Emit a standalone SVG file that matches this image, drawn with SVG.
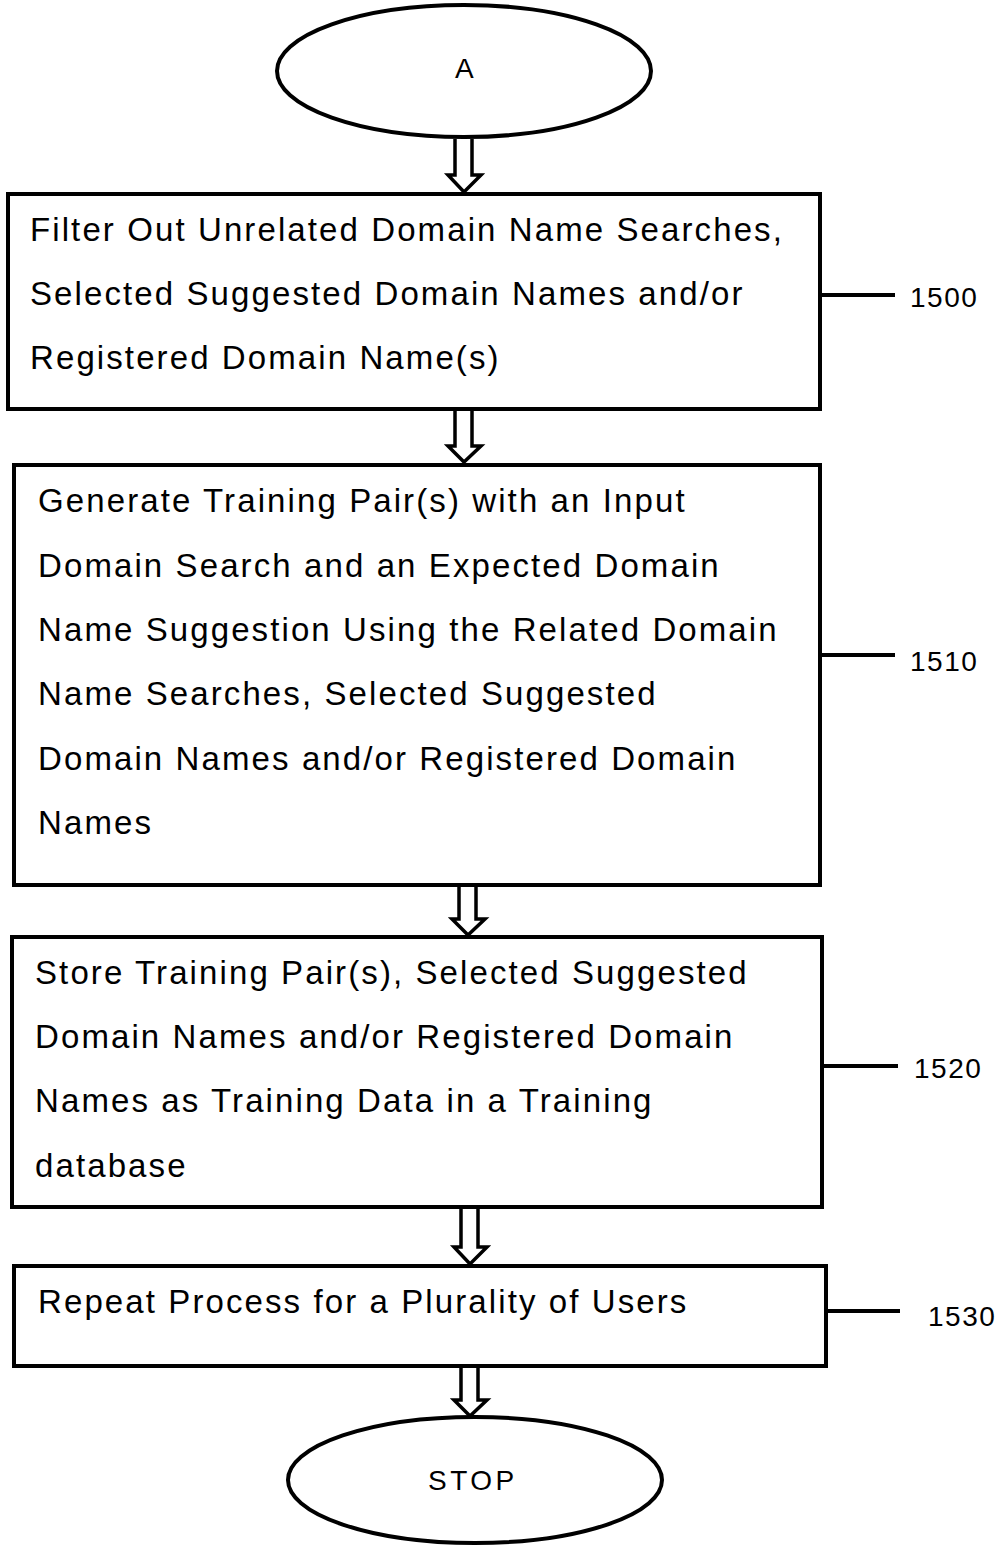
<svg xmlns="http://www.w3.org/2000/svg" width="1001" height="1547" viewBox="0 0 1001 1547">
<style>
.b{fill:#fff;stroke:#000;stroke-width:4}
.t{font-family:"Liberation Sans",Arial,sans-serif;font-size:33px;letter-spacing:2.1px;fill:#000}
.n{font-family:"Liberation Sans",Arial,sans-serif;font-size:28px;letter-spacing:1.5px;fill:#000}
.l{stroke:#000;stroke-width:4;fill:none}
.a{fill:#fff;stroke:#000;stroke-width:3.5;stroke-linejoin:miter}
</style>
<rect width="1001" height="1547" fill="#fff"/>
<g id="nodeA"><ellipse class="b" cx="464" cy="71" rx="187" ry="66"/><text class="n" x="455" y="78">A</text></g>
<g id="n1500"><rect class="b" x="8" y="194" width="812" height="215"/>
<text class="t" x="30" y="241">Filter Out Unrelated Domain Name Searches,</text>
<text class="t" x="30" y="305">Selected Suggested Domain Names and/or</text>
<text class="t" x="30" y="369">Registered Domain Name(s)</text></g>
<g id="n1510"><rect class="b" x="14" y="465" width="806" height="420"/>
<text class="t" x="38" y="512">Generate Training Pair(s) with an Input</text>
<text class="t" x="38" y="577">Domain Search and an Expected Domain</text>
<text class="t" x="38" y="641">Name Suggestion Using the Related Domain</text>
<text class="t" x="38" y="705">Name Searches, Selected Suggested</text>
<text class="t" x="38" y="770">Domain Names and/or Registered Domain</text>
<text class="t" x="38" y="834">Names</text></g>
<g id="n1520"><rect class="b" x="12" y="937" width="810" height="270"/>
<text class="t" x="35" y="984">Store Training Pair(s), Selected Suggested</text>
<text class="t" x="35" y="1048">Domain Names and/or Registered Domain</text>
<text class="t" x="35" y="1112">Names as Training Data in a Training</text>
<text class="t" x="35" y="1177">database</text></g>
<g id="n1530"><rect class="b" x="14" y="1266" width="812" height="100"/>
<text class="t" x="38" y="1313">Repeat Process for a Plurality of Users</text></g>
<g id="stop"><ellipse class="b" cx="475" cy="1480" rx="187" ry="63"/><text class="n" x="428" y="1490" style="letter-spacing:3.5px">STOP</text></g>
<g id="connectors">
<path class="a" d="M455 139 V175 H448 L464 192 L481 175 H472 V139"/>
<path class="a" d="M455 411 V446 H448 L464 462 L481 446 H472 V411"/>
<path class="a" d="M459 887 V919 H452 L468 935 L485 919 H476 V887"/>
<path class="a" d="M461 1209 V1247 H454 L470 1264 L487 1247 H478 V1209"/>
<path class="a" d="M461 1368 V1400 H454 L470 1416 L487 1400 H478 V1368"/>
<path class="l" d="M820 295 H895"/><text class="n" x="910" y="307">1500</text>
<path class="l" d="M820 655 H895"/><text class="n" x="910" y="671">1510</text>
<path class="l" d="M822 1066 H898"/><text class="n" x="914" y="1078">1520</text>
<path class="l" d="M826 1311 H900"/><text class="n" x="928" y="1326">1530</text>
</g>
</svg>
